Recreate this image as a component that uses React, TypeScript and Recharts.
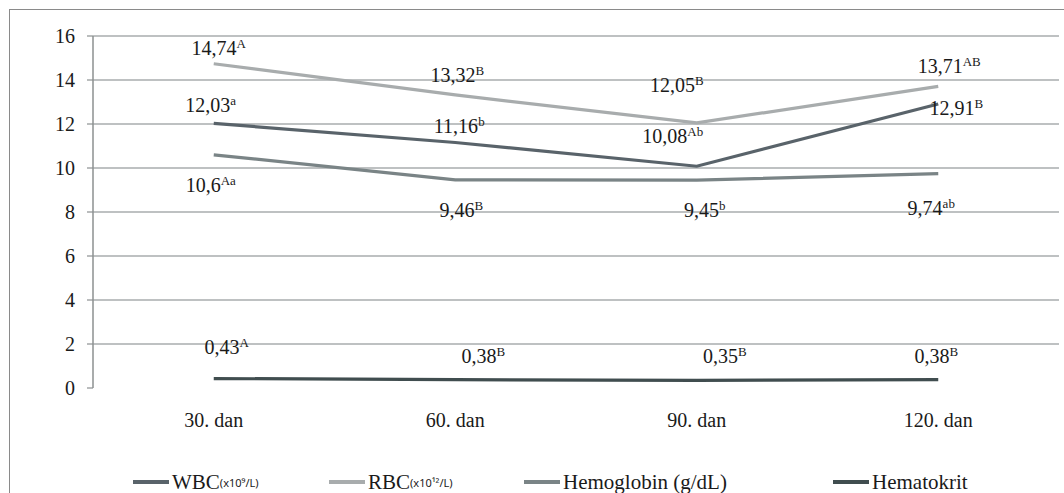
import { CartesianGrid, LabelList, Legend, Line, LineChart, XAxis, YAxis } from "recharts";

// Values per sampling day.
const days = ["30. dan", "60. dan", "90. dan", "120. dan"];
const wbc = [12.03, 11.16, 10.08, 12.91];
const rbc = [14.74, 13.32, 12.05, 13.71];
const hemoglobin = [10.6, 9.46, 9.45, 9.74];
const hematokrit = [0.43, 0.38, 0.35, 0.38];

// Significance letters printed after each value.
const wbcMarks = ["a", "b", "Ab", "B"];
const rbcMarks = ["A", "B", "B", "AB"];
const hemoglobinMarks = ["Aa", "B", "b", "ab"];
const hematokritMarks = ["A", "B", "B", "B"];

const yTicks = [0, 2, 4, 6, 8, 10, 12, 14, 16];
const bandTicks = [0, 1, 2, 3, 4];

const data = days.map((day, i) => ({
  day,
  wbc: wbc[i],
  rbc: rbc[i],
  hemoglobin: hemoglobin[i],
  hematokrit: hematokrit[i],
}));

const FONT = "Liberation Serif, Times New Roman, Times, Tinos, serif";
const AXIS = "#8c9091";
const GRID = "#a8adae";

const COLORS = {
  wbc: "#59636a",
  rbc: "#a8acad",
  hemoglobin: "#7a8486",
  hematokrit: "#404d4f",
};

// label offsets (centre x, baseline y) from each point, as placed in the original
const OFFSETS = {
  wbc: [[-3, -11], [4, -9.5], [-24, -23], [18, 11]],
  rbc: [[5, -9], [2, -13], [-20, -31], [11, -13]],
  hemoglobin: [[-3, 37], [6, 37], [8, 37], [-7, 41]],
  hematokrit: [[13, -25], [28, -17], [28, -17], [-2, -17]],
};

function makeLabel(marks: string[], offsets: number[][]) {
  return (props: any) => {
    const { x, y, value, index } = props;
    const [dx, dy] = offsets[index];
    return (
      <text x={x + dx} y={y + dy} textAnchor="middle" style={{ fontFamily: FONT }} fontSize={20} fill="#1a1a1a">
        <tspan>{String(value).replace(".", ",")}</tspan>
        <tspan fontSize={13} dy={-7}>
          {marks[index]}
        </tspan>
      </text>
    );
  };
}

const legendItems = [
  { key: "wbc", name: "WBC", unit: "(x10⁹/L)", left: 133 },
  { key: "rbc", name: "RBC", unit: "(x10¹²/L)", left: 329 },
  { key: "hemoglobin", name: "Hemoglobin (g/dL)", unit: "", left: 524 },
  { key: "hematokrit", name: "Hematokrit", unit: "", left: 833 },
];

function LegendContent() {
  return (
    <div style={{ position: "relative", width: 1064, height: 26 }}>
      {legendItems.map((it) => (
        <div
          key={it.key}
          style={{
            position: "absolute",
            left: it.left,
            top: 0,
            display: "flex",
            alignItems: "center",
            whiteSpace: "nowrap",
            height: 26,
          }}
        >
          <span
            style={{
              display: "inline-block",
              width: 36,
              height: 4,
              background: COLORS[it.key as keyof typeof COLORS],
              marginRight: 3,
            }}
          />
          <span style={{ fontFamily: FONT, fontSize: 21, color: "#1a1a1a" }}>{it.name}</span>
          {it.unit && (
            <span style={{ fontFamily: "Noto Sans, DejaVu Sans, sans-serif", fontSize: 11, color: "#1a1a1a" }}>{it.unit}</span>
          )}
        </div>
      ))}
    </div>
  );
}

const tickStyle = { fontFamily: FONT, fontSize: 20, fill: "#1a1a1a" };

export default function App() {
  return (
    <div
      style={{
        position: "absolute",
        left: 0,
        top: 0,
        width: 1064,
        height: 493,
        overflow: "hidden",
        background: "#fff",
        fontFamily: FONT,
      }}
    >
      <div
        style={{
          position: "absolute",
          left: 9,
          top: 9,
          width: 1200,
          height: 700,
          border: "1.5px solid #8a8a8a",
          pointerEvents: "none",
        }}
      />
      <LineChart
        width={1064}
        height={493}
        data={data}
        margin={{ top: 36, right: 5, bottom: 75, left: 43 }}
        accessibilityLayer={false}
        style={{ fontFamily: FONT }}
      >
        <CartesianGrid xAxisId="cat" vertical={false} stroke={GRID} strokeWidth={1.3} horizontalValues={yTicks.slice(1)} />
        <XAxis
          xAxisId="ticks"
          type="number"
          domain={[0, 4]}
          ticks={bandTicks}
          tick={false}
          tickSize={5}
          height={0}
          axisLine={{ stroke: AXIS, strokeWidth: 1.5 }}
          tickLine={{ stroke: AXIS, strokeWidth: 1.2 }}
        />
        <XAxis
          xAxisId="cat"
          dataKey="day"
          scale="band"
          height={30}
          axisLine={false}
          tickLine={false}
          tickSize={0}
          tickMargin={25}
          tick={tickStyle}
        />
        <YAxis
          domain={[0, 16]}
          ticks={yTicks}
          width={50}
          tickSize={6}
          tickMargin={12}
          axisLine={{ stroke: AXIS, strokeWidth: 1.5 }}
          tickLine={{ stroke: AXIS, strokeWidth: 1.2 }}
          tick={tickStyle}
        />
        <Legend
          verticalAlign="middle"
          layout="horizontal"
          content={<LegendContent />}
          wrapperStyle={{ top: 469, left: 0, width: 1064, height: 26 }}
        />
        <Line xAxisId="cat" dataKey="rbc" stroke={COLORS.rbc} strokeWidth={3.2} dot={false} isAnimationActive={false}>
          <LabelList dataKey="rbc" content={makeLabel(rbcMarks, OFFSETS.rbc)} />
        </Line>
        <Line xAxisId="cat" dataKey="hemoglobin" stroke={COLORS.hemoglobin} strokeWidth={3.2} dot={false} isAnimationActive={false}>
          <LabelList dataKey="hemoglobin" content={makeLabel(hemoglobinMarks, OFFSETS.hemoglobin)} />
        </Line>
        <Line xAxisId="cat" dataKey="wbc" stroke={COLORS.wbc} strokeWidth={3.2} dot={false} isAnimationActive={false}>
          <LabelList dataKey="wbc" content={makeLabel(wbcMarks, OFFSETS.wbc)} />
        </Line>
        <Line xAxisId="cat" dataKey="hematokrit" stroke={COLORS.hematokrit} strokeWidth={3.2} dot={false} isAnimationActive={false}>
          <LabelList dataKey="hematokrit" content={makeLabel(hematokritMarks, OFFSETS.hematokrit)} />
        </Line>
      </LineChart>
    </div>
  );
}
